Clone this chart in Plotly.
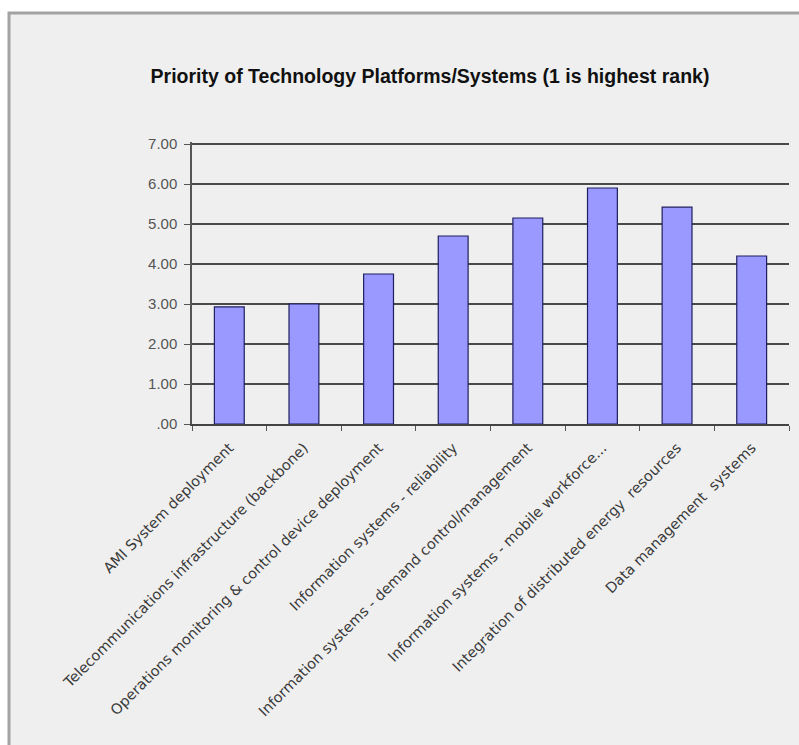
import plotly.graph_objects as go

categories = [
    "AMI System deployment",
    "Telecommunications infrastructure (backbone)",
    "Operations monitoring & control device deployment",
    "Information systems - reliability",
    "Information systems - demand control/management",
    "Information systems - mobile workforce...",
    "Integration of distributed energy  resources",
    "Data management  systems",
]
priority = [2.93, 3.00, 3.75, 4.70, 5.15, 5.90, 5.42, 4.20]

y_ticks = [0, 1, 2, 3, 4, 5, 6, 7]
y_tick_labels = [".00", "1.00", "2.00", "3.00", "4.00", "5.00", "6.00", "7.00"]

title_text = "<b>Priority of Technology Platforms/Systems (1 is highest rank)</b>"

W, H = 799, 745
L, R, T, B = 192, 10, 142, 321
pw, ph = W - L - R, H - T - B

def px_x(x):
    return (x - L) / pw

def px_y(y):
    return (H - B - y) / ph

fig = go.Figure(
    go.Bar(
        x=categories,
        y=priority,
        marker=dict(color="#9999ff", line=dict(color="#1f1f5f", width=1.2)),
        width=0.4,
    )
)

# chart frame behind the plot
fig.add_shape(
    type="rect", xref="paper", yref="paper", layer="below",
    x0=px_x(9), x1=px_x(820), y0=px_y(760), y1=px_y(13),
    fillcolor="#efefef", line=dict(color="#a3a3a3", width=3),
)

fig.update_layout(
    width=W, height=H,
    margin=dict(l=L, r=R, t=T, b=B),
    paper_bgcolor="white",
    plot_bgcolor="rgba(0,0,0,0)",
    showlegend=False,
    bargap=0.6,
    title=dict(
        text=title_text,
        x=px_x(430), xref="paper", xanchor="center",
        y=1 - 76 / H, yref="container", yanchor="middle",
        font=dict(family="Liberation Sans, Arial", size=19.5, color="#111111"),
    ),
    font=dict(family="Arial, Liberation Sans", color="#404040"),
)

fig.update_yaxes(
    range=[0, 7.05],
    tickvals=y_ticks, ticktext=y_tick_labels,
    showgrid=True, gridcolor="#4a4a4a", gridwidth=1.6,
    showline=True, linecolor="#555555", linewidth=1.5,
    ticks="outside", ticklen=6, tickcolor="#555555",
    ticklabelstandoff=4,
    tickfont=dict(family="Liberation Sans, Arial", size=15, color="#555555"),
    zeroline=False,
)

fig.update_xaxes(
    tickangle=-45,
    tickson="boundaries",
    ticks="outside", ticklen=5, tickcolor="#555555",
    ticklabelstandoff=8,
    showline=True, linecolor="#444444", linewidth=1.5,
    tickfont=dict(family="DejaVu Sans", size=14.5, color="#3a3a3a"),
    showgrid=False,
)

fig.write_html("out.html")
